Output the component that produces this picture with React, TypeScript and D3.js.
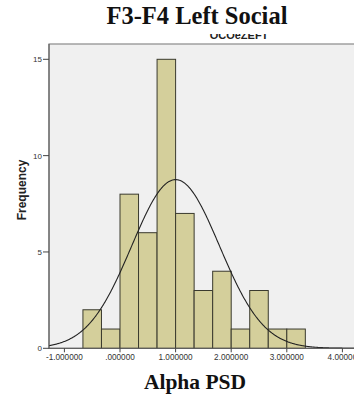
import React from "react";
import * as d3 from "d3";

const binEdges = [-0.6667, -0.3333, 0, 0.3333, 0.6667, 1.0, 1.3333, 1.6667, 2.0, 2.3333, 2.6667, 3.0, 3.3333];
const counts = [2, 1, 8, 6, 15, 7, 3, 4, 1, 3, 1, 1];
const xTicks = [-1, 0, 1, 2, 3, 4];
const xTickLabels = ["-1.000000", ".000000", "1.000000", "2.000000", "3.000000", "4.00000"];
const yTicks = [0, 5, 10, 15];
const curveMean = 1.0;
const curveSd = 0.79;

export default function App() {
  const W = 354, H = 401;
  const plotLeft = 49, plotTop = 44, plotBottom = 348.3, plotRight = 362;
  const x = d3.scaleLinear().domain([-1, 4]).range([64.4, 342.4]);
  const y = d3.scaleLinear().domain([0, 15]).range([plotBottom, 59.3]);
  const n = d3.sum(counts);
  const bw = binEdges[1] - binEdges[0];
  const peak = (n * bw) / (curveSd * Math.sqrt(2 * Math.PI));
  const xs = d3.range(x.invert(plotLeft), x.invert(plotRight), 0.01);
  const line = d3
    .line<number>()
    .x((v) => x(v))
    .y((v) => y(peak * Math.exp(-0.5 * ((v - curveMean) / curveSd) ** 2)))
    .curve(d3.curveLinear);

  return (
    <svg width={W} height={H} style={{ position: "absolute", left: 0, top: 0, background: "#fff" }}>
      <defs>
        <clipPath id="plotclip">
          <rect x={plotLeft} y={plotTop} width={plotRight - plotLeft} height={plotBottom - plotTop} />
        </clipPath>
        <clipPath id="subclip">
          <rect x={150} y={34} width={180} height={8} />
        </clipPath>
      </defs>
      <text x={197} y={24} textAnchor="middle" fontFamily="Liberation Serif, Times New Roman, serif" fontWeight="bold" fontSize={24.5} fill="#111">
        F3-F4 Left Social
      </text>
      <g clipPath="url(#subclip)">
        <text x={239} y={38.5} textAnchor="middle" fontFamily="Liberation Sans, Arial, sans-serif" fontWeight="bold" fontSize={11} fill="#222">
          OCOeZEFT
        </text>
      </g>
      <rect x={plotLeft} y={plotTop} width={plotRight - plotLeft} height={plotBottom - plotTop} fill="#f0f0f0" stroke="#8a8a8a" strokeWidth={1.2} />
      <g clipPath="url(#plotclip)">
        {counts.map((c, i) => (
          <rect
            key={i}
            x={x(binEdges[i])}
            y={y(c)}
            width={x(binEdges[i + 1]) - x(binEdges[i])}
            height={y(0) - y(c)}
            fill="#d4cf9b"
            stroke="#3a3a2e"
            strokeWidth={1}
          />
        ))}
        <path d={line(xs) || ""} fill="none" stroke="#222" strokeWidth={1.1} />
      </g>
      <line x1={plotLeft} x2={plotRight} y1={plotBottom} y2={plotBottom} stroke="#555" strokeWidth={1} />
      <line x1={plotLeft} x2={plotLeft} y1={plotTop} y2={plotBottom} stroke="#555" strokeWidth={1} />
      {yTicks.map((t) => (
        <g key={t}>
          <line x1={43} x2={plotLeft} y1={y(t)} y2={y(t)} stroke="#444" strokeWidth={1} />
          <text x={42} y={y(t) + 3} textAnchor="end" fontFamily="Liberation Sans, Arial, sans-serif" fontSize={8} fill="#333">
            {t}
          </text>
        </g>
      ))}
      {xTicks.map((t, i) => (
        <g key={t}>
          <line x1={x(t)} x2={x(t)} y1={plotBottom} y2={plotBottom + 4} stroke="#444" strokeWidth={1} />
          <text x={x(t)} y={359.5} textAnchor="middle" fontFamily="Liberation Sans, Arial, sans-serif" fontSize={8.2} fill="#333">
            {xTickLabels[i]}
          </text>
        </g>
      ))}
      <text
        transform={`translate(26,190) rotate(-90)`}
        textAnchor="middle"
        fontFamily="Liberation Sans, Arial, sans-serif"
        fontWeight="bold"
        fontSize={12}
        fill="#222"
      >
        Frequency
      </text>
      <text x={195} y={389} textAnchor="middle" fontFamily="Liberation Serif, Times New Roman, serif" fontWeight="bold" fontSize={21.5} fill="#111">
        Alpha PSD
      </text>
    </svg>
  );
}
